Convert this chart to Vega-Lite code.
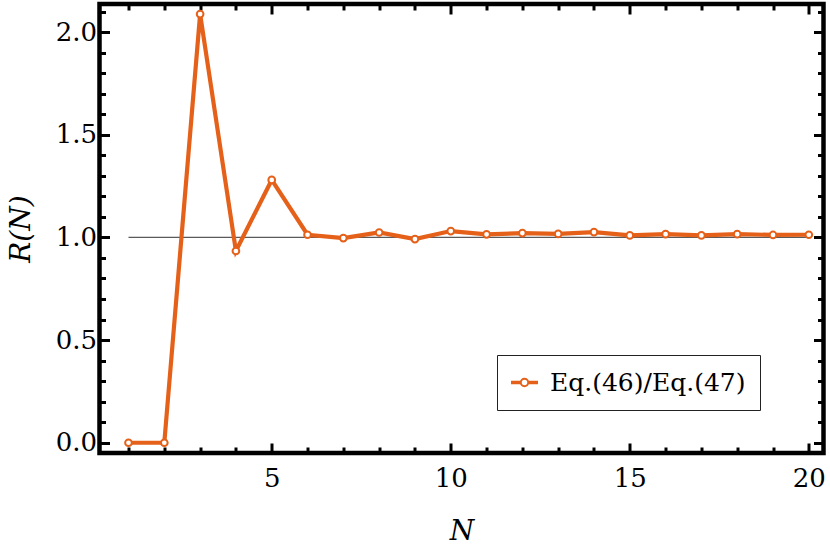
{
  "$schema": "https://vega.github.io/schema/vega-lite/v6.json",
  "width": 724,
  "height": 449,
  "autosize": {"type": "none"},
  "padding": {"left": 99.5, "top": 4, "right": 6.5, "bottom": 98},
  "background": "white",
  "config": {
    "font": "DejaVu Serif",
    "view": {"stroke": "black", "strokeWidth": 4.5},
    "legend": {"labelFont": "DejaVu Serif"},
    "axis": {
      "labelFont": "DejaVu Serif",
      "labelFontSize": 26,
      "labelColor": "black",
      "titleFont": "DejaVu Serif",
      "titleFontSize": 28,
      "titleFontWeight": "normal",
      "titleFontStyle": "italic",
      "titleColor": "black",
      "domain": false,
      "grid": false,
      "ticks": true,
      "labelOverlap": false,
      "labelFlush": false
    }
  },
  "datasets": {
    "ratio": [
      {"N": 1, "R": 0, "series": "Eq.(46)/Eq.(47)"},
      {"N": 2, "R": 0, "series": "Eq.(46)/Eq.(47)"},
      {"N": 3, "R": 2.088, "series": "Eq.(46)/Eq.(47)"},
      {"N": 4, "R": 0.934, "series": "Eq.(46)/Eq.(47)"},
      {"N": 5, "R": 1.28, "series": "Eq.(46)/Eq.(47)"},
      {"N": 6, "R": 1.013, "series": "Eq.(46)/Eq.(47)"},
      {"N": 7, "R": 0.997, "series": "Eq.(46)/Eq.(47)"},
      {"N": 8, "R": 1.024, "series": "Eq.(46)/Eq.(47)"},
      {"N": 9, "R": 0.992, "series": "Eq.(46)/Eq.(47)"},
      {"N": 10, "R": 1.031, "series": "Eq.(46)/Eq.(47)"},
      {"N": 11, "R": 1.015, "series": "Eq.(46)/Eq.(47)"},
      {"N": 12, "R": 1.021, "series": "Eq.(46)/Eq.(47)"},
      {"N": 13, "R": 1.017, "series": "Eq.(46)/Eq.(47)"},
      {"N": 14, "R": 1.026, "series": "Eq.(46)/Eq.(47)"},
      {"N": 15, "R": 1.01, "series": "Eq.(46)/Eq.(47)"},
      {"N": 16, "R": 1.016, "series": "Eq.(46)/Eq.(47)"},
      {"N": 17, "R": 1.01, "series": "Eq.(46)/Eq.(47)"},
      {"N": 18, "R": 1.016, "series": "Eq.(46)/Eq.(47)"},
      {"N": 19, "R": 1.012, "series": "Eq.(46)/Eq.(47)"},
      {"N": 20, "R": 1.013, "series": "Eq.(46)/Eq.(47)"}
    ],
    "ref": [{"x": 1, "x2": 20, "y": 1}]
  },
  "layer": [
    {
      "data": {"name": "ref"},
      "mark": {"type": "rule", "color": "#5a5a5a", "strokeWidth": 1.3},
      "encoding": {
        "x": {
          "field": "x",
          "type": "quantitative",
          "scale": {"domain": [0.19, 20.41], "nice": false, "zero": false},
          "axis": {
            "orient": "bottom",
            "title": "N",
            "values": [1,2,3,4,5,6,7,8,9,10,11,12,13,14,15,16,17,18,19,20],
            "labelExpr": "datum.value % 5 === 0 ? datum.label : ''",
            "tickColor": "black",
            "tickSize": {"condition": {"test": "datum.value % 5 === 0", "value": -10}, "value": -6},
            "tickWidth": 3,
            "labelPadding": 22,
            "titlePadding": 22
          }
        },
        "x2": {"field": "x2"},
        "y": {
          "field": "y",
          "type": "quantitative",
          "scale": {"domain": [-0.05, 2.137], "nice": false, "zero": false},
          "axis": {
            "orient": "left",
            "title": "R(N)",
            "values": [0,0.1,0.2,0.3,0.4,0.5,0.6,0.7,0.8,0.9,1,1.1,1.2,1.3,1.4,1.5,1.6,1.7,1.8,1.9,2,2.1],
            "labelExpr": "round(datum.value*10) % 5 === 0 ? format(datum.value, '.1f') : ''",
            "tickColor": "black",
            "tickSize": {"condition": {"test": "round(datum.value*10) % 5 === 0", "value": -10}, "value": -6},
            "tickWidth": 3,
            "labelPadding": 13,
            "titlePadding": 20
          }
        }
      }
    },
    {
      "data": {"name": "ratio"},
      "mark": {
        "type": "line",
        "strokeWidth": 4.2,
        "point": {"filled": false, "fill": "white", "size": 45, "strokeWidth": 2}
      },
      "encoding": {
        "x": {
          "field": "N",
          "type": "quantitative",
          "axis": {
            "orient": "top",
            "title": null,
            "labels": false,
            "values": [1,2,3,4,5,6,7,8,9,10,11,12,13,14,15,16,17,18,19,20],
            "tickColor": "black",
            "tickSize": {"condition": {"test": "datum.value % 5 === 0", "value": -10}, "value": -6},
            "tickWidth": 3
          }
        },
        "y": {
          "field": "R",
          "type": "quantitative",
          "axis": {
            "orient": "right",
            "title": null,
            "labels": false,
            "values": [0,0.1,0.2,0.3,0.4,0.5,0.6,0.7,0.8,0.9,1,1.1,1.2,1.3,1.4,1.5,1.6,1.7,1.8,1.9,2,2.1],
            "tickColor": "black",
            "tickSize": {"condition": {"test": "round(datum.value*10) % 5 === 0", "value": -10}, "value": -6},
            "tickWidth": 3
          }
        },
        "color": {
          "field": "series",
          "type": "nominal",
          "scale": {"range": ["#e5611a"]},
          "legend": {
            "title": null,
            "orient": "none",
            "legendX": 397.5,
            "legendY": 351,
            "padding": 14,
            "strokeColor": "#222222",
            "fillColor": "white",
            "cornerRadius": 0,
            "symbolType": "M-1,-0.06L-0.3,-0.06L-0.3,0.06L-1,0.06Z M0.3,-0.06L1,-0.06L1,0.06L0.3,0.06Z M-0.3,0A0.3,0.3 0 1,1 0.3,0A0.3,0.3 0 1,1 -0.3,0Z",
            "symbolSize": 625,
            "symbolFillColor": "white",
            "symbolStrokeColor": "#e5611a",
            "symbolStrokeWidth": 2,
            "labelFont": "DejaVu Serif",
            "labelFontSize": 25,
            "labelColor": "black",
            "labelOffset": 12,
            "labelLimit": 400
          }
        }
      }
    }
  ],
  "resolve": {"axis": {"x": "independent", "y": "independent"}}
}
